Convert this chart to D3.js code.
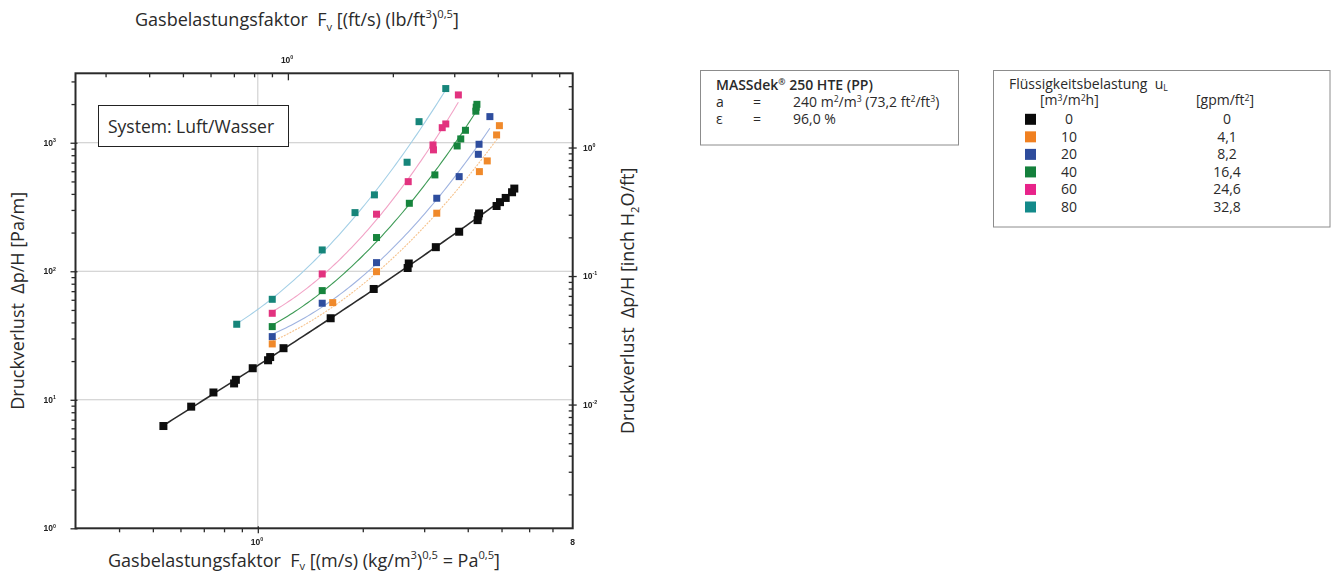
<!DOCTYPE html>
<html>
<head>
<meta charset="utf-8">
<script src="https://cdn.jsdelivr.net/npm/d3@7"></script>
<style>
  html, body { margin: 0; padding: 0; background: #fff; }
  svg { display: block; }
  text { font-family: "Open Sans", "Noto Sans", "DejaVu Sans", sans-serif; fill: #2a2a2a; }
  .tick-label { font-family: "Liberation Sans", Arial, sans-serif; font-weight: bold; fill: #222; }
</style>
</head>
<body>
<svg id="chart" width="1331" height="574"></svg>
<script>
// Liquid loads u_L (m³/m²h) and the same loads in gpm/ft²
const loadings = ["0", "10", "20", "40", "60", "80"];
const loadingsGpm = ["0", "4,1", "8,2", "16,4", "24,6", "32,8"];

// Gas load factor F_v [Pa^0.5] and pressure drop Δp/H [Pa/m], one pair per liquid load
const fv_0  = [0.536, 0.644, 0.746, 0.855, 0.865, 0.967, 1.07, 1.085, 1.185, 1.618, 2.15, 2.69, 2.71, 3.24, 3.78, 4.27, 4.29, 4.31, 4.84, 4.95, 5.14, 5.36, 5.44];
const dp_0  = [6.25, 8.84, 11.4, 13.4, 14.3, 17.6, 20.3, 21.5, 25.2, 43.1, 72.8, 106, 115, 154, 203, 250, 268, 282, 322, 345, 372, 412, 440];
const fv_10 = [1.10, 1.64, 2.19, 3.26, 4.32, 4.55, 4.84, 4.93];
const dp_10 = [27.2, 57, 99.3, 283, 596, 722, 1150, 1358];
const fv_20 = [1.10, 1.53, 2.19, 3.26, 3.78, 4.29, 4.31, 4.63];
const dp_20 = [31, 56.4, 116.7, 370, 545, 813, 973, 1597];
const fv_40 = [1.10, 1.53, 2.19, 2.72, 3.22, 3.73, 3.82, 3.94, 4.22, 4.23, 4.25];
const dp_40 = [37.1, 70.7, 183, 338, 562, 944, 1071, 1250, 1760, 1890, 1990];
const fv_60 = [1.10, 1.53, 2.19, 2.70, 3.18, 3.19, 3.38, 3.46, 3.76];
const dp_60 = [47.1, 95.3, 278, 498, 961, 880, 1310, 1400, 2355];
const fv_80 = [0.87, 1.10, 1.53, 1.90, 2.16, 2.68, 2.90, 3.46];
const dp_80 = [38.7, 60.5, 146.5, 286, 393, 705, 1459, 2640];

// Axis ticks
const xMajor = [1];
const xMinor = [0.4, 0.5, 0.6, 0.7, 0.8, 0.9, 2, 3, 4, 5, 6, 7];
const xTopMajor = [1];
const xTopMinor = [0.3, 0.4, 0.5, 0.6, 0.7, 0.8, 0.9, 2, 3, 4, 5, 6];
const yMajor = [1, 10, 100, 1000];
const yMinor = [2, 3, 4, 5, 6, 7, 8, 9, 20, 30, 40, 50, 60, 70, 80, 90, 200, 300, 400, 500, 600, 700, 800, 900, 2000, 3000];
const yRightMajor = [0.01, 0.1, 1];
const yRightMinor = [0.002, 0.003, 0.004, 0.005, 0.006, 0.007, 0.008, 0.009,
                     0.02, 0.03, 0.04, 0.05, 0.06, 0.07, 0.08, 0.09,
                     0.2, 0.3, 0.4, 0.5, 0.6, 0.7, 0.8, 0.9, 2, 3];

// Styling per liquid load
const markerColors = ["#111111", "#f0892a", "#2e4d9e", "#17843c", "#e2327f", "#16857a"];
const lineColors   = ["#2b2b2b", "#f6c28c", "#9fb3e0", "#3d9a55", "#f2a3c6", "#a3cfe6"];
const legendColors = ["#0a0a0a", "#f08020", "#2e4c9c", "#14803c", "#e8238a", "#138a8a"];

const series = [
  { fv: fv_0,  dp: dp_0 },
  { fv: fv_10, dp: dp_10 },
  { fv: fv_20, dp: dp_20 },
  { fv: fv_40, dp: dp_40 },
  { fv: fv_60, dp: dp_60 },
  { fv: fv_80, dp: dp_80 }
];

// Unit conversions for the secondary axes
const PA05_TO_FT = 0.8199;     // 1 Pa^0.5 in (ft/s)(lb/ft³)^0.5
const INH2O_FT_TO_PA_M = 918;  // scale of the right-hand axis

const svg = d3.select("#chart");

const plot = { left: 75.5, right: 572.7, top: 73.3, bottom: 528.3 };
const x = d3.scaleLog().domain([0.3, 8]).range([plot.left, plot.right]);
const y = d3.scaleLog().domain([1, 3470]).range([plot.bottom, plot.top]);
const xTop = d3.scaleLog().domain(x.domain().map(v => v * PA05_TO_FT)).range(x.range());
const yRight = d3.scaleLog().domain(y.domain().map(v => v / INH2O_FT_TO_PA_M)).range(y.range());

// slight softness of the scanned diagram
const defs = svg.append("defs");
defs.append("filter").attr("id", "soft")
  .append("feGaussianBlur").attr("stdDeviation", 0.45);

const g = svg.append("g").attr("filter", "url(#soft)");

// grid lines
const grid = g.append("g").attr("stroke", "#c9c9c9").attr("stroke-width", 1);
xMajor.forEach(v => grid.append("line")
  .attr("x1", x(v)).attr("x2", x(v)).attr("y1", plot.top).attr("y2", plot.bottom));
[10, 100, 1000].forEach(v => grid.append("line")
  .attr("x1", plot.left).attr("x2", plot.right).attr("y1", y(v)).attr("y2", y(v)));

// least-squares polynomial in log-log space
function polyFit(xs, ys, deg) {
  const n = deg + 1;
  const A = Array.from({ length: n }, () => new Array(n).fill(0));
  const b = new Array(n).fill(0);
  xs.forEach((xv, i) => {
    for (let r = 0; r < n; r++) {
      b[r] += ys[i] * Math.pow(xv, r);
      for (let c = 0; c < n; c++) A[r][c] += Math.pow(xv, r + c);
    }
  });
  for (let i = 0; i < n; i++) {
    let p = i;
    for (let k = i + 1; k < n; k++) if (Math.abs(A[k][i]) > Math.abs(A[p][i])) p = k;
    [A[i], A[p]] = [A[p], A[i]]; [b[i], b[p]] = [b[p], b[i]];
    for (let k = i + 1; k < n; k++) {
      const f = A[k][i] / A[i][i];
      for (let c = i; c < n; c++) A[k][c] -= f * A[i][c];
      b[k] -= f * b[i];
    }
  }
  const coef = new Array(n).fill(0);
  for (let i = n - 1; i >= 0; i--) {
    let s = b[i];
    for (let c = i + 1; c < n; c++) s -= A[i][c] * coef[c];
    coef[i] = s / A[i][i];
  }
  return coef;
}

const line = d3.line().x(d => x(d[0])).y(d => y(d[1])).curve(d3.curveLinear);

// fitted curves
series.forEach((s, i) => {
  const lx = s.fv.map(Math.log10), ly = s.dp.map(Math.log10);
  const coef = polyFit(lx, ly, i === 0 ? 3 : 2);
  const lo = d3.min(lx), hi = d3.max(lx);
  const pts = d3.range(0, 81).map(k => {
    const t = lo + (hi - lo) * k / 80;
    const v = coef.reduce((acc, c, p) => acc + c * Math.pow(t, p), 0);
    return [Math.pow(10, t), Math.pow(10, v)];
  });
  g.append("path")
    .attr("d", line(pts))
    .attr("fill", "none")
    .attr("stroke", lineColors[i])
    .attr("stroke-width", i === 0 ? 1.6 : 1.1)
    .attr("stroke-dasharray", i === 1 ? "2,1.2" : null);
});

// markers
series.slice().reverse().forEach((s, ri) => {
  const i = series.length - 1 - ri;
  const size = i === 0 ? 8 : 7;
  g.append("g").selectAll("rect")
    .data(s.fv.map((f, k) => [f, s.dp[k]]))
    .join("rect")
    .attr("x", d => x(d[0]) - size / 2)
    .attr("y", d => y(d[1]) - size / 2)
    .attr("width", size).attr("height", size)
    .attr("fill", markerColors[i]);
});

// axes (ticks only, frame drawn separately)
function ticks(axis, values, size, transform) {
  const a = g.append("g").attr("transform", transform)
    .call(axis.tickValues(values).tickSize(size).tickSizeOuter(0).tickFormat(""));
  a.select(".domain").remove();
  a.selectAll("line").attr("stroke", "#2a2a2a").attr("stroke-width", 1.3);
}
ticks(d3.axisBottom(x), xMinor, 4, `translate(0,${plot.bottom})`);
ticks(d3.axisBottom(x), xMajor, 7, `translate(0,${plot.bottom - 2})`);
ticks(d3.axisBottom(xTop), xTopMinor, 4, `translate(0,${plot.top})`);
ticks(d3.axisBottom(xTop), xTopMajor, 7, `translate(0,${plot.top})`);
ticks(d3.axisLeft(y), yMinor, 4, `translate(${plot.left},0)`);
ticks(d3.axisLeft(y), yMajor, 7, `translate(${plot.left + 2},0)`);
ticks(d3.axisLeft(yRight), yRightMinor, 4, `translate(${plot.right},0)`);
ticks(d3.axisLeft(yRight), yRightMajor, 8, `translate(${plot.right + 4},0)`);

// frame
g.append("rect")
  .attr("x", plot.left).attr("y", plot.top)
  .attr("width", plot.right - plot.left).attr("height", plot.bottom - plot.top)
  .attr("fill", "none").attr("stroke", "#2a2a2a").attr("stroke-width", 2);

// text with sub/superscripts
function rich(sel, parts, size, supShift = 0.42, subShift = 0.28) {
  let shift = 0;
  parts.forEach(([t, kind]) => {
    const target = kind === "sup" ? -supShift * size : kind === "sub" ? subShift * size : 0;
    sel.append("tspan")
      .attr("dy", target - shift)
      .attr("font-size", kind ? size * 0.62 : size)
      .text(t);
    shift = target;
  });
  return sel;
}

function powLabel(sel, exp, size) {
  return rich(sel, [["10", null], [String(exp), "sup"]], size);
}

// tick labels
const tl = g.append("g");
yMajor.forEach(v => powLabel(tl.append("text").attr("class", "tick-label")
  .attr("x", 56).attr("y", y(v) + 3).attr("text-anchor", "end"), Math.round(Math.log10(v)), 8.5));
yRightMajor.forEach(v => powLabel(tl.append("text").attr("class", "tick-label")
  .attr("x", 583).attr("y", yRight(v) + 3), Math.round(Math.log10(v)), 8.5));
xMajor.forEach(v => powLabel(tl.append("text").attr("class", "tick-label")
  .attr("x", x(v) - 7).attr("y", 545), Math.round(Math.log10(v)), 8.5));
xTopMajor.forEach(v => powLabel(tl.append("text").attr("class", "tick-label")
  .attr("x", xTop(v) - 7).attr("y", 63), Math.round(Math.log10(v)), 8.5));
tl.append("text").attr("class", "tick-label")
  .attr("x", x(8)).attr("y", 545).attr("text-anchor", "middle")
  .attr("font-size", 8.5).text("8");

// axis titles
const T = 18;
rich(svg.append("text").attr("x", 135).attr("y", 26),
  [["Gasbelastungsfaktor\u00a0 F", null], ["v", "sub"], [" [(ft/s) (lb/ft", null], ["3", "sup"], [")", null], ["0,5", "sup"], ["]", null]], T);
rich(svg.append("text").attr("x", 108).attr("y", 567),
  [["Gasbelastungsfaktor\u00a0 F", null], ["v", "sub"], [" [(m/s) (kg/m", null], ["3", "sup"], [")", null], ["0,5", "sup"], [" = Pa", null], ["0,5", "sup"], ["]", null]], T, 0.42, 0.16);
rich(svg.append("text").attr("transform", `translate(24,${(plot.top + plot.bottom) / 2}) rotate(-90)`)
  .attr("text-anchor", "middle"),
  [["Druckverlust\u00a0 Δp/H [Pa/m]", null]], T);
rich(svg.append("text").attr("transform", `translate(634,${(plot.top + plot.bottom) / 2}) rotate(-90)`)
  .attr("text-anchor", "middle"),
  [["Druckverlust\u00a0 Δp/H [inch H", null], ["2", "sub"], ["O/ft]", null]], T);

// system note
svg.append("rect").attr("x", 98.5).attr("y", 105.5).attr("width", 190).attr("height", 41)
  .attr("fill", "#fff").attr("stroke", "#222").attr("stroke-width", 1);
svg.append("text").attr("x", 108).attr("y", 133).attr("font-size", 17.5).text("System: Luft/Wasser");

// packing data box
const B = 14;
svg.append("rect").attr("x", 700.5).attr("y", 70.5).attr("width", 258).attr("height", 74.5)
  .attr("fill", "#fff").attr("stroke", "#8c8c8c").attr("stroke-width", 1);
rich(svg.append("text").attr("x", 716).attr("y", 89.5).attr("font-weight", 600),
  [["MASSdek", null], ["®", "sup"], [" 250 HTE (PP)", null]], B, 0.35);
svg.append("text").attr("x", 716).attr("y", 106.5).attr("font-size", B).text("a");
svg.append("text").attr("x", 753).attr("y", 106.5).attr("font-size", B).text("=");
rich(svg.append("text").attr("x", 793).attr("y", 106.5),
  [["240 m", null], ["2", "sup"], ["/m", null], ["3", "sup"], [" (73,2 ft", null], ["2", "sup"], ["/ft", null], ["3", "sup"], [")", null]], B, 0.35);
svg.append("text").attr("x", 716).attr("y", 124).attr("font-size", B).text("ε");
svg.append("text").attr("x", 753).attr("y", 124).attr("font-size", B).text("=");
svg.append("text").attr("x", 793).attr("y", 124).attr("font-size", B).text("96,0 %");

// legend
svg.append("rect").attr("x", 993.5).attr("y", 70.5).attr("width", 336.5).attr("height", 156.5)
  .attr("fill", "#fff").attr("stroke", "#8c8c8c").attr("stroke-width", 1);
rich(svg.append("text").attr("x", 1009).attr("y", 88.5),
  [["Flüssigkeitsbelastung\u00a0 u", null], ["L", "sub"]], B, 0.42, 0.2);
rich(svg.append("text").attr("x", 1040).attr("y", 105),
  [["[m", null], ["3", "sup"], ["/m", null], ["2", "sup"], ["h]", null]], B, 0.3);
rich(svg.append("text").attr("x", 1196).attr("y", 105),
  [["[gpm/ft", null], ["2", "sup"], ["]", null]], B, 0.3);

const rowY = d3.scaleLinear().domain([0, loadings.length - 1]).range([124.3, 212]);
loadings.forEach((l, i) => {
  svg.append("rect").attr("x", 1025).attr("y", rowY(i) - 10.5)
    .attr("width", 11).attr("height", 11).attr("fill", legendColors[i]);
  svg.append("text").attr("x", 1069).attr("y", rowY(i)).attr("text-anchor", "middle")
    .attr("font-size", B).text(l);
  svg.append("text").attr("x", 1227).attr("y", rowY(i)).attr("text-anchor", "middle")
    .attr("font-size", B).text(loadingsGpm[i]);
});
</script>
</body>
</html>
